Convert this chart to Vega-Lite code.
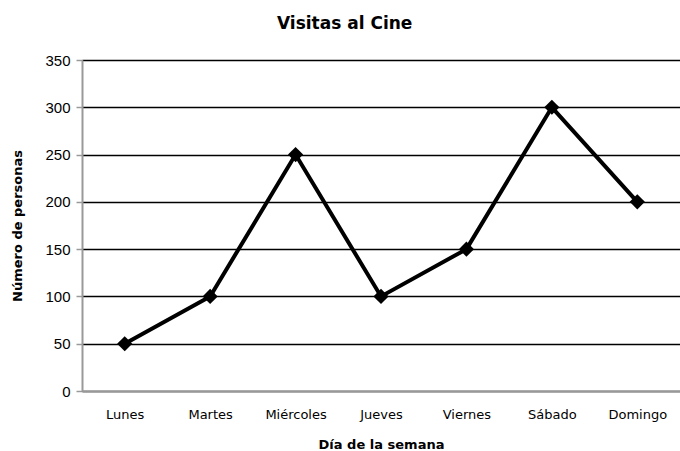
{
  "$schema": "https://vega.github.io/schema/vega-lite/v6.json",
  "autosize": {"type": "none"},
  "padding": {"left": 82, "top": 60, "right": 0, "bottom": 60},
  "width": 598,
  "height": 331,
  "background": "white",
  "title": {
    "text": "Visitas al Cine",
    "font": "DejaVu Sans",
    "fontSize": 17,
    "fontWeight": "bold",
    "color": "black",
    "anchor": "start",
    "dx": 265,
    "offset": 20
  },
  "config": {
    "view": {"stroke": null},
    "axis": {"grid": false}
  },
  "data": {
    "values": [
      {"dia": "Lunes", "personas": 50},
      {"dia": "Martes", "personas": 100},
      {"dia": "Miércoles", "personas": 250},
      {"dia": "Jueves", "personas": 100},
      {"dia": "Viernes", "personas": 150},
      {"dia": "Sábado", "personas": 300},
      {"dia": "Domingo", "personas": 200}
    ]
  },
  "encoding": {
    "x": {
      "field": "dia",
      "type": "nominal",
      "sort": null,
      "scale": {"paddingInner": 0, "paddingOuter": 0},
      "axis": {
        "title": "Día de la semana",
        "titleFont": "DejaVu Sans",
        "titleFontSize": 13,
        "titleFontWeight": "bold",
        "titleColor": "black",
        "titlePadding": 17,
        "labelAngle": 0,
        "labelFont": "DejaVu Sans",
        "labelFontSize": 13,
        "labelColor": "black",
        "labelPadding": 17,
        "ticks": false,
        "domainColor": "#999999",
        "domainWidth": 2,
        "bandPosition": 0.5
      }
    },
    "y": {
      "field": "personas",
      "type": "quantitative",
      "scale": {"domain": [0, 350]},
      "axis": {
        "title": "Número de personas",
        "titleFont": "DejaVu Sans",
        "titleFontSize": 13,
        "titleFontWeight": "bold",
        "titleColor": "black",
        "titlePadding": 20,
        "values": [0, 50, 100, 150, 200, 250, 300, 350],
        "labelFont": "Liberation Sans",
        "labelFontSize": 15,
        "labelColor": "black",
        "labelPadding": 6,
        "tickColor": "#999999",
        "tickSize": 6,
        "tickWidth": 1.5,
        "domainColor": "#999999",
        "domainWidth": 2,
        "grid": true,
        "gridColor": "black",
        "gridWidth": 1.3,
        "gridOpacity": 1
      }
    }
  },
  "layer": [
    {"mark": {"type": "line", "color": "black", "strokeWidth": 4}},
    {"mark": {"type": "point", "shape": "diamond", "filled": true, "color": "black", "opacity": 1, "size": 230}}
  ]
}
